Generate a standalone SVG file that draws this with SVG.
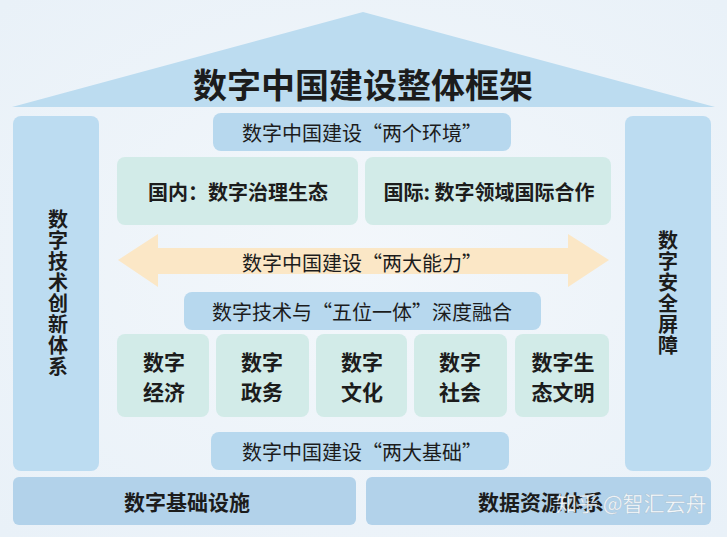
<svg xmlns="http://www.w3.org/2000/svg" width="727" height="537" viewBox="0 0 727 537">
<defs>
<style>
.t{font-family:"Noto Sans CJK SC","Noto Sans",sans-serif;fill:#1c1c1c;text-anchor:middle;dominant-baseline:central}
.b{font-weight:700}
.r{font-weight:400}
.v{font-family:"Noto Sans CJK SC","Noto Sans",sans-serif;fill:#1c1c1c;font-weight:700;writing-mode:tb;text-anchor:start;letter-spacing:1px}
.blue{fill:#b7d8ee}
.col{fill:#bcdcf1}
.mint{fill:#d2ebe8}
.base{fill:#b2d2ea}
</style>
<radialGradient id="bg" cx="0.5" cy="0.5" r="0.7">
<stop offset="0" stop-color="#f3f7fb"/>
<stop offset="1" stop-color="#e9f1f8"/>
</radialGradient>
</defs>
<rect width="727" height="537" fill="url(#bg)"/>

<g id="roof">
<polygon points="363,12 12,107 715,107" fill="#bcdcf0"/>
<text class="t b" x="363" y="83" font-size="34">数字中国建设整体框架</text>
</g>

<g id="tech-col">
<rect class="col" x="13" y="116" width="86" height="355" rx="8"/>
<text class="v" x="58" y="209" font-size="20">数字技术创新体系</text>
</g>

<g id="security-col">
<rect class="col" x="625" y="116" width="86" height="355" rx="8"/>
<text class="v" x="668" y="230" font-size="20">数字安全屏障</text>
</g>

<g id="env">
<rect class="blue" x="213" y="113" width="298" height="38" rx="8"/>
<text class="t r" x="362" y="132" font-size="20">数字中国建设“两个环境”</text>
</g>

<g id="domestic">
<rect class="mint" x="117" y="157" width="241" height="68" rx="8"/>
<text class="t b" x="238" y="191" font-size="20">国内：数字治理生态</text>
</g>

<g id="intl">
<rect class="mint" x="365" y="157" width="246" height="68" rx="8"/>
<text class="t b" x="489" y="191" font-size="20">国际: 数字领域国际合作</text>
</g>

<g id="ability">
<polygon points="118,260 158,234 158,248 568,248 568,234 609,260 568,287 568,274 158,274 158,287" fill="#fbe7c6"/>
<text class="t r" x="362" y="262" font-size="20">数字中国建设“两大能力”</text>
</g>

<g id="fusion">
<rect class="blue" x="184" y="292" width="357" height="38" rx="8"/>
<text class="t r" x="362" y="311" font-size="20">数字技术与“五位一体”深度融合</text>
</g>

<g id="economy">
<rect class="mint" x="117" y="334" width="92" height="83" rx="8"/>
<text class="t b" font-size="21"><tspan x="164" y="361">数字</tspan><tspan x="164" y="391">经济</tspan></text>
</g>
<g id="government">
<rect class="mint" x="216" y="334" width="93" height="83" rx="8"/>
<text class="t b" font-size="21"><tspan x="262" y="361">数字</tspan><tspan x="262" y="391">政务</tspan></text>
</g>
<g id="culture">
<rect class="mint" x="316" y="334" width="91" height="83" rx="8"/>
<text class="t b" font-size="21"><tspan x="362" y="361">数字</tspan><tspan x="362" y="391">文化</tspan></text>
</g>
<g id="society">
<rect class="mint" x="414" y="334" width="93" height="83" rx="8"/>
<text class="t b" font-size="21"><tspan x="460" y="361">数字</tspan><tspan x="460" y="391">社会</tspan></text>
</g>
<g id="ecology">
<rect class="mint" x="515" y="334" width="94" height="83" rx="8"/>
<text class="t b" font-size="21"><tspan x="563" y="361">数字生</tspan><tspan x="563" y="391">态文明</tspan></text>
</g>

<g id="foundation">
<rect class="blue" x="211" y="432" width="298" height="38" rx="8"/>
<text class="t r" x="362" y="451" font-size="20">数字中国建设“两大基础”</text>
</g>

<g id="infra">
<rect class="base" x="13" y="477" width="343" height="48" rx="6"/>
<text class="t b" x="187" y="501" font-size="21">数字基础设施</text>
</g>

<g id="data">
<rect class="base" x="366" y="477" width="345" height="48" rx="6"/>
<text class="t b" x="541" y="501" font-size="21">数据资源体系</text>
</g>

<g id="watermark">
<text x="556" y="502" font-family="Noto Sans CJK SC,sans-serif" font-size="21" fill="#ffffff" fill-opacity="0.9" stroke="#8a9aa8" stroke-opacity="0.35" stroke-width="0.6" dominant-baseline="central">知乎 @智汇云舟</text>
</g>
</svg>
